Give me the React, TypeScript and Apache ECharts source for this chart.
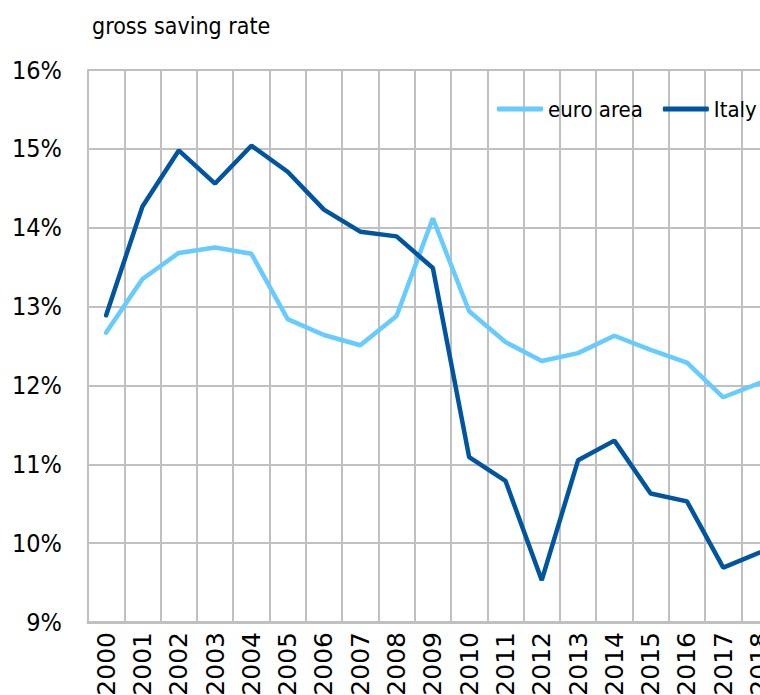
import React, { useEffect, useRef } from "react";
import * as echarts from "echarts";

const years = ["2000","2001","2002","2003","2004","2005","2006","2007","2008","2009","2010","2011","2012","2013","2014","2015","2016","2017","2018","2019"];
const euroArea = [12.67,13.35,13.68,13.75,13.67,12.84,12.64,12.51,12.88,14.12,12.94,12.55,12.31,12.41,12.63,12.45,12.29,11.85,12.03];
const italy = [12.89,14.27,14.98,14.56,15.04,14.71,14.23,13.95,13.89,13.49,11.09,10.79,9.53,11.05,11.30,10.63,10.53,9.69,9.88];
const yMin = 9;
const yMax = 16;

const condensed = "'DejaVu Sans Condensed', 'Liberation Sans Narrow', sans-serif";

export default function App() {
  const ref = useRef<HTMLDivElement>(null);
  useEffect(() => {
    if (!ref.current) return;
    const chart = echarts.init(ref.current, undefined, { renderer: "svg" });
    chart.setOption({
      animation: false,
      backgroundColor: "#ffffff",
      title: {
        text: "gross saving rate",
        left: 87,
        top: 9,
        textStyle: { fontFamily: condensed, fontSize: 23, fontWeight: "normal", color: "#000" },
      },
      legend: {
        left: 497,
        top: 98,
        padding: 0,
        icon: "roundRect",
        itemWidth: 46,
        itemHeight: 5,
        itemGap: 20,
        textStyle: { fontFamily: condensed, fontSize: 22, color: "#000" },
        data: ["euro area", "Italy"],
      },
      grid: { left: 88, top: 70, width: 726, height: 552, containLabel: false, outerBoundsMode: "none" },
      xAxis: {
        type: "category",
        data: years,
        boundaryGap: true,
        axisTick: { show: false },
        axisLine: { lineStyle: { color: "#C0C0C0", width: 3 } },
        splitLine: { show: true, interval: 0, lineStyle: { color: "#C0C0C0", width: 2 } },
        axisLabel: {
          interval: 0,
          rotate: 90,
          margin: 10,
          fontFamily: "'DejaVu Sans', sans-serif",
          fontSize: 25,
          color: "#000",
        },
      },
      yAxis: {
        type: "value",
        min: yMin,
        max: yMax,
        interval: 1,
        axisLine: { show: true, lineStyle: { color: "#C0C0C0", width: 2 } },
        axisTick: { show: false },
        splitLine: { show: true, lineStyle: { color: "#C0C0C0", width: 2 } },
        axisLabel: {
          formatter: "{value}%",
          margin: 26,
          fontFamily: condensed,
          fontSize: 25,
          color: "#000",
        },
      },
      series: [
        {
          name: "euro area",
          type: "line",
          data: euroArea,
          symbol: "none",
          color: "#66CCFF",
          lineStyle: { width: 4.5, color: "#66CCFF", cap: "round" },
        },
        {
          name: "Italy",
          type: "line",
          data: italy,
          symbol: "none",
          color: "#0055A0",
          lineStyle: { width: 4.5, color: "#0055A0", cap: "round" },
        },
      ],
    });
    return () => chart.dispose();
  }, []);
  return (
    <div style={{ position: "fixed", left: 0, top: 0, width: 760, height: 695, overflow: "hidden", background: "#fff" }}>
      <div ref={ref} style={{ width: 900, height: 695 }} />
    </div>
  );
}
